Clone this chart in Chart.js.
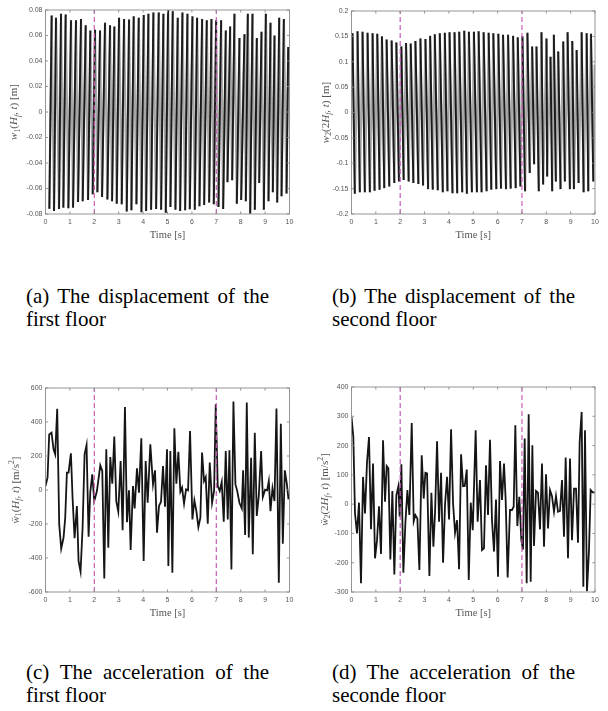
<!DOCTYPE html>
<html><head><meta charset="utf-8">
<script src="https://cdn.jsdelivr.net/npm/chart.js@4/dist/chart.umd.min.js"></script>
<style>
body{margin:0;background:#fff;}
#fig{position:relative;width:608px;height:711px;overflow:hidden;background:#fff;}
canvas{position:absolute;}
.cap{position:absolute;font-family:'Liberation Serif','DejaVu Serif',serif;font-size:21px;line-height:23px;color:#000;width:243px;}
.cap .l1{text-align:justify;text-align-last:justify;}
</style></head>
<body><div id="fig">
<canvas id="ca" width="300" height="250" style="left:0;top:0;width:300px;height:250px"></canvas>
<canvas id="cb" width="304" height="250" style="left:304px;top:0;width:304px;height:250px"></canvas>
<canvas id="cc" width="300" height="250" style="left:0;top:376px;width:300px;height:250px"></canvas>
<canvas id="cd" width="304" height="250" style="left:304px;top:376px;width:304px;height:250px"></canvas>
<div class="cap" style="left:26px;top:285px"><div class="l1">(a) The displacement of the</div><div>first floor</div></div>
<div class="cap" style="left:332px;top:285px"><div class="l1">(b) The displacement of the</div><div>second floor</div></div>
<div class="cap" style="left:26px;top:661px"><div class="l1">(c) The acceleration of the</div><div>first floor</div></div>
<div class="cap" style="left:332px;top:661px"><div class="l1">(d) The acceleration of the</div><div>seconde floor</div></div>
</div>
<script>
// ---------- data ----------
const timeTicks = [0,1,2,3,4,5,6,7,8,9,10];
const timeTickLabels = ['0','1','2','3','4','5','6','7','8','9','10'];
const eventTimes = [2, 7];

// (a) first floor displacement: troughs and peaks
const aTroughT = [0.157,0.349,0.554,0.731,0.937,1.128,1.333,1.524,1.743,1.935,2.126,2.317,2.536,2.728,2.919,3.124,3.329,3.52,3.726,3.931,4.122,4.327,4.532,4.737,4.929,5.12,5.325,5.517,5.722,5.913,6.118,6.31,6.501,6.706,6.897,7.089,7.28,7.458,7.649,7.841,8.018,8.21,8.388,8.579,8.757,8.948,9.139,9.317,9.495,9.673,9.878];
const aTroughV = [-0.0758,-0.0776,-0.076,-0.075,-0.0755,-0.075,-0.0706,-0.070,-0.069,-0.0645,-0.063,-0.0667,-0.0687,-0.070,-0.072,-0.0724,-0.078,-0.077,-0.0724,-0.0787,-0.0776,-0.0766,-0.076,-0.0766,-0.079,-0.0745,-0.0766,-0.0776,-0.077,-0.0763,-0.0766,-0.074,-0.073,-0.071,-0.0724,-0.0745,-0.076,-0.055,-0.0535,-0.072,-0.069,-0.070,-0.0797,-0.0766,-0.0556,-0.0766,-0.070,-0.063,-0.071,-0.066,-0.064];
const aPeakT = [0.253,0.431,0.636,0.827,1.046,1.251,1.456,1.648,1.839,2.030,2.235,2.440,2.646,2.823,3.015,3.220,3.425,3.616,3.822,4.027,4.218,4.423,4.642,4.833,5.025,5.216,5.421,5.613,5.818,6.023,6.214,6.419,6.611,6.802,6.993,7.198,7.390,7.568,7.745,7.950,8.155,8.292,8.484,8.661,8.853,9.031,9.222,9.386,9.578,9.769,9.947];
const aPeakV = [0.0756,0.074,0.077,0.0765,0.072,0.072,0.073,0.068,0.064,0.0645,0.064,0.070,0.068,0.067,0.074,0.073,0.0725,0.075,0.074,0.076,0.077,0.078,0.078,0.077,0.080,0.079,0.074,0.078,0.077,0.075,0.074,0.073,0.072,0.073,0.072,0.072,0.064,0.067,0.077,0.058,0.061,0.077,0.077,0.058,0.063,0.077,0.070,0.060,0.074,0.073,0.051];

// (b) second floor displacement
const bPeakT = [0.041,0.247,0.453,0.659,0.865,1.058,1.25,1.442,1.648,1.841,2.047,2.239,2.431,2.624,2.830,3.036,3.228,3.42,3.626,3.832,4.025,4.231,4.423,4.629,4.821,5.027,5.22,5.426,5.632,5.824,6.03,6.223,6.429,6.635,6.827,7.019,7.225,7.418,7.596,7.802,8.008,8.173,8.310,8.489,8.695,8.874,9.066,9.245,9.451,9.657,9.835,9.986];
const bPeakV = [0.156,0.160,0.159,0.157,0.156,0.155,0.150,0.144,0.142,0.138,0.130,0.137,0.136,0.141,0.146,0.145,0.151,0.154,0.156,0.157,0.158,0.158,0.159,0.161,0.159,0.159,0.160,0.158,0.157,0.156,0.155,0.153,0.153,0.151,0.148,0.150,0.157,0.130,0.130,0.158,0.146,0.110,0.153,0.120,0.140,0.158,0.141,0.123,0.158,0.156,0.155,0.094];
const bTroughT = [0.137,0.343,0.549,0.755,0.948,1.154,1.346,1.552,1.758,1.951,2.143,2.349,2.541,2.747,2.940,3.146,3.338,3.544,3.750,3.942,4.148,4.341,4.547,4.739,4.945,5.151,5.343,5.549,5.742,5.948,6.14,6.346,6.538,6.745,6.937,7.129,7.321,7.5,7.692,7.871,8.036,8.242,8.393,8.585,8.764,8.97,9.135,9.327,9.533,9.725,9.931];
const bTroughV = [-0.16,-0.157,-0.157,-0.157,-0.154,-0.152,-0.149,-0.146,-0.139,-0.136,-0.133,-0.136,-0.139,-0.141,-0.144,-0.151,-0.152,-0.153,-0.157,-0.155,-0.159,-0.159,-0.157,-0.16,-0.157,-0.157,-0.157,-0.155,-0.152,-0.151,-0.150,-0.151,-0.150,-0.149,-0.146,-0.155,-0.119,-0.102,-0.155,-0.142,-0.126,-0.155,-0.136,-0.151,-0.136,-0.151,-0.151,-0.139,-0.157,-0.155,-0.136];

// (c) first floor acceleration
const cT = [0,0.083,0.152,0.247,0.33,0.398,0.48,0.562,0.644,0.74,0.808,0.877,0.945,1.041,1.109,1.191,1.287,1.355,1.437,1.52,1.602,1.683,1.766,1.834,1.916,1.998,2.108,2.245,2.327,2.409,2.491,2.573,2.655,2.737,2.819,2.901,2.983,3.079,3.161,3.256,3.339,3.421,3.489,3.585,3.653,3.749,3.831,3.927,4.023,4.105,4.187,4.296,4.406,4.488,4.57,4.652,4.734,4.816,4.898,4.98,5.035,5.117,5.199,5.281,5.363,5.445,5.527,5.596,5.678,5.76,5.842,5.924,6.02,6.102,6.184,6.266,6.348,6.416,6.498,6.567,6.649,6.731,6.827,6.909,6.977,7.059,7.141,7.223,7.305,7.387,7.469,7.538,7.62,7.702,7.784,7.852,7.948,8.044,8.099,8.181,8.249,8.331,8.427,8.495,8.577,8.659,8.741,8.837,8.906,9.001,9.084,9.152,9.22,9.302,9.384,9.466,9.562,9.644,9.726,9.808,9.890,9.959];
const cV = [23,73,327,337,239,210,478,-202,-345,-280,-163,102,102,216,-45,-284,-94,-418,-480,-222,210,265,-275,-16,92,-65,-6,145,112,-520,239,-339,194,37,314,-65,-127,171,-237,488,-190,-2,-353,23,-108,127,-16,304,-418,171,-75,269,33,116,-251,-94,-69,141,-98,239,-447,229,-486,363,37,224,-10,14,-80,4,-2,347,-173,-61,-124,-218,-163,220,53,76,-198,161,-75,-6,504,23,-6,47,-186,229,-173,233,-467,520,33,-2,-75,-108,116,-265,514,-280,190,-378,337,-153,-35,229,-41,2,-2,53,-124,10,-65,480,-545,390,-316,116,37,-55];

// (d) second floor acceleration
const dT = [0,0.075,0.144,0.226,0.308,0.39,0.473,0.555,0.637,0.719,0.801,0.884,0.966,1.048,1.13,1.212,1.295,1.377,1.445,1.514,1.596,1.678,1.76,1.842,1.925,1.979,2.048,2.13,2.212,2.295,2.377,2.473,2.555,2.623,2.705,2.788,2.884,2.966,3.034,3.103,3.199,3.281,3.363,3.432,3.514,3.596,3.678,3.76,3.842,3.925,4.007,4.089,4.171,4.253,4.336,4.418,4.5,4.582,4.651,4.733,4.815,4.897,4.979,5.099,5.181,5.277,5.359,5.441,5.523,5.606,5.688,5.77,5.852,5.934,6.016,6.099,6.181,6.263,6.331,6.413,6.509,6.591,6.66,6.728,6.81,6.892,6.975,7.043,7.112,7.194,7.276,7.359,7.427,7.495,7.577,7.659,7.741,7.823,7.906,7.988,8.07,8.152,8.234,8.316,8.398,8.481,8.563,8.645,8.727,8.795,8.891,8.973,9.055,9.138,9.22,9.302,9.37,9.452,9.521,9.589,9.671,9.753,9.822,9.904,9.986];
const dV = [298,229,-32,-100,5,-270,93,-32,144,229,-86,139,-185,-123,-7,-170,218,8,130,122,-189,45,-240,30,61,-43,136,-234,-66,48,-37,277,-58,-37,-49,-225,167,19,107,105,-245,39,-145,-26,215,-60,107,-200,0,93,-52,256,2,-98,-55,-222,170,61,62,118,-259,5,-89,252,-60,82,-157,-151,133,-37,220,-55,-162,16,-248,147,14,139,14,-250,-20,-20,-9,269,-75,25,-123,-155,224,-270,307,-265,201,-143,45,39,-86,139,-145,102,-83,48,27,-26,27,-26,-23,82,-111,159,-185,156,-123,53,53,-132,212,315,-282,252,-297,-157,48,40,40];

const yTicksA = [-0.08,-0.06,-0.04,-0.02,0,0.02,0.04,0.06,0.08];
const yTickLabelsA = ['-0.08','-0.06','-0.04','-0.02','0','0.02','0.04','0.06','0.08'];
const yTicksB = [-0.2,-0.15,-0.1,-0.05,0,0.05,0.1,0.15,0.2];
const yTickLabelsB = ['-0.2','-0.15','-0.1','-0.05','0','0.05','0.1','0.15','0.2'];
const yTicksC = [-600,-400,-200,0,200,400,600];
const yTickLabelsC = ['-600','-400','-200','0','200','400','600'];
const yTicksD = [-300,-200,-100,0,100,200,300,400];
const yTickLabelsD = ['-300','-200','-100','0','100','200','300','400'];

// ---------- helpers ----------
function interleave(t1, v1, t2, v2) {
  const out = [];
  const n = Math.max(t1.length, t2.length);
  for (let i = 0; i < n; i++) {
    if (i < t1.length) out.push({x: t1[i], y: v1[i]});
    if (i < t2.length) out.push({x: t2[i], y: v2[i]});
  }
  return out;
}
function pairs(t, v) { return t.map((x, i) => ({x, y: v[i]})); }

const TXT = '#555';
const SERIF = '"Liberation Serif","DejaVu Serif",serif';
const SANS = '"Liberation Sans",Arial,Helvetica,sans-serif';

function drawRich(ctx, segs, size) {
  let total = 0;
  const items = segs.map(s => {
    const small = s.sub || s.sup;
    const fs = small ? size * 0.7 : size;
    const font = (s.i ? 'italic ' : '') + fs + 'px ' + SERIF;
    ctx.font = font;
    const w = ctx.measureText(s.t).width;
    total += w;
    return {t: s.t, font, w, dy: s.sub ? size * 0.22 : (s.sup ? -size * 0.4 : 0)};
  });
  let x = -total / 2;
  const base = size * 0.33;
  ctx.textAlign = 'left';
  ctx.textBaseline = 'alphabetic';
  for (const it of items) {
    ctx.font = it.font;
    ctx.fillText(it.t, x, base + it.dy);
    x += it.w;
  }
}

function makeChart(id, o) {
  const canvas = document.getElementById(id);
  const W = canvas.width, H = canvas.height;
  const ar = o.area;
  const datasets = [];
  eventTimes.forEach(t => datasets.push({
    data: [{x: t, y: o.ymin}, {x: t, y: o.ymax}],
    borderColor: '#c95ab8', borderWidth: 1.2, borderDash: [5, 3],
    pointRadius: 0, order: 0
  }));
  if (o.blackDir) {
    const dir = o.blackDir;
    const isBlack = c => dir * (c.p1.parsed.y - c.p0.parsed.y) > 0;
    datasets.push({
      data: o.series, borderColor: '#1a1a1a', borderWidth: 1.9,
      pointRadius: 0, tension: 0, order: 1,
      segment: {borderColor: c => isBlack(c) ? '#1a1a1a' : 'rgba(0,0,0,0)'}
    });
    datasets.push({
      data: o.series, borderColor: '#a6a6a6', borderWidth: 2.2,
      pointRadius: 0, tension: 0, order: 2
    });
  } else {
    datasets.push({
      data: o.series, borderColor: '#151515', borderWidth: 1.8,
      pointRadius: 0, tension: 0, order: 1
    });
  }

  const deco = {
    id: 'deco',
    afterDraw(chart) {
      const ctx = chart.ctx;
      const {left, right, top, bottom} = chart.chartArea;
      const xs = chart.scales.x, ys = chart.scales.y;
      ctx.save();
      ctx.strokeStyle = '#8a8a8a';
      ctx.lineWidth = 0.9;
      ctx.strokeRect(left, top, right - left, bottom - top);
      ctx.beginPath();
      const tl = 2.6;
      timeTicks.forEach(v => {
        const px = xs.getPixelForValue(v);
        ctx.moveTo(px, bottom); ctx.lineTo(px, bottom - tl);
        ctx.moveTo(px, top); ctx.lineTo(px, top + tl);
      });
      o.yTicks.forEach(v => {
        const py = ys.getPixelForValue(v);
        ctx.moveTo(left, py); ctx.lineTo(left + tl, py);
        ctx.moveTo(right, py); ctx.lineTo(right - tl, py);
      });
      ctx.stroke();
      ctx.fillStyle = TXT;
      ctx.font = '10.5px ' + SERIF;
      ctx.textAlign = 'center';
      ctx.textBaseline = 'middle';
      ctx.fillText('Time [s]', (left + right) / 2, bottom + 21);
      ctx.translate(o.ylabX, (top + bottom) / 2);
      ctx.rotate(-Math.PI / 2);
      drawRich(ctx, o.ylab, 11);
      ctx.restore();
    }
  };

  return new Chart(canvas, {
    type: 'line',
    data: {datasets},
    options: {
      responsive: false, animation: false, devicePixelRatio: 1,
      layout: {padding: {left: 0, top: ar.top, right: W - ar.right, bottom: 0}},
      plugins: {legend: {display: false}, tooltip: {enabled: false}},
      scales: {
        x: {
          type: 'linear', min: 0, max: 10,
          grid: {display: false, drawTicks: false, tickLength: 0}, border: {display: false},
          afterBuildTicks: s => { s.ticks = timeTicks.map(v => ({value: v})); },
          afterFit: s => { s.height = H - ar.bottom; },
          ticks: {autoSkip: false, maxRotation: 0, padding: 4, color: TXT,
            font: {family: SANS, size: 7},
            callback: (v, i) => timeTickLabels[i]}
        },
        y: {
          type: 'linear', min: o.ymin, max: o.ymax,
          grid: {display: false, drawTicks: false, tickLength: 0}, border: {display: false},
          afterBuildTicks: s => { s.ticks = o.yTicks.map(v => ({value: v})); },
          afterFit: s => { s.width = ar.left; },
          ticks: {autoSkip: false, padding: 3, color: TXT,
            font: {family: SANS, size: 7},
            callback: (v, i) => o.yLabels[i]}
        }
      }
    },
    plugins: [deco]
  });
}

makeChart('ca', {
  series: interleave(aTroughT, aTroughV, aPeakT, aPeakV),
  ymin: -0.08, ymax: 0.08, yTicks: yTicksA, yLabels: yTickLabelsA,
  area: {left: 45.5, top: 10, right: 289.5, bottom: 214},
  blackDir: 1,
  ylabX: 13.5,
  ylab: [{t:'w',i:1},{t:'1',sub:1},{t:'('},{t:'H',i:1},{t:'f',i:1,sub:1},{t:', '},{t:'t',i:1},{t:')'},{t:' [m]'}]
});
makeChart('cb', {
  series: interleave(bPeakT, bPeakV, bTroughT, bTroughV),
  ymin: -0.2, ymax: 0.2, yTicks: yTicksB, yLabels: yTickLabelsB,
  area: {left: 47.5, top: 11, right: 291, bottom: 214},
  blackDir: -1,
  ylabX: 21,
  ylab: [{t:'w',i:1},{t:'2',sub:1},{t:'(2'},{t:'H',i:1},{t:'f',i:1,sub:1},{t:', '},{t:'t',i:1},{t:')'},{t:' [m]'}]
});
makeChart('cc', {
  series: pairs(cT, cV),
  ymin: -600, ymax: 600, yTicks: yTicksC, yLabels: yTickLabelsC,
  area: {left: 45.5, top: 12, right: 289.5, bottom: 216},
  ylabX: 15,
  ylab: [{t:'\u1E85',i:1},{t:'1',sub:1},{t:'('},{t:'H',i:1},{t:'f',i:1,sub:1},{t:', '},{t:'t',i:1},{t:')'},{t:' [m/s'},{t:'2',sup:1},{t:']'}]
});
makeChart('cd', {
  series: pairs(dT, dV),
  ymin: -300, ymax: 400, yTicks: yTicksD, yLabels: yTickLabelsD,
  area: {left: 47.5, top: 11, right: 291, bottom: 216},
  ylabX: 20,
  ylab: [{t:'\u1E85',i:1},{t:'2',sub:1},{t:'(2'},{t:'H',i:1},{t:'f',i:1,sub:1},{t:', '},{t:'t',i:1},{t:')'},{t:' [m/s'},{t:'2',sup:1},{t:']'}]
});
</script>
</body></html>
